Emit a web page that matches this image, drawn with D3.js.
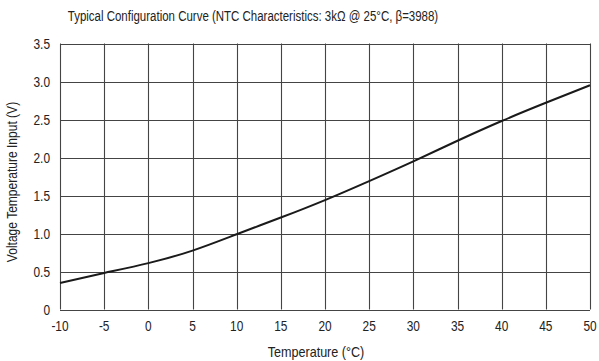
<!DOCTYPE html>
<html>
<head>
<meta charset="utf-8">
<script src="https://cdn.jsdelivr.net/npm/d3@7"></script>
<style>
  body { margin: 0; background: #fff; }
  svg text { font-family: "Liberation Sans", Arial, sans-serif; fill: #222; }
</style>
</head>
<body>
<div id="chart"></div>
<script>
// temperature (°C) vs voltage (V)
const temps = [-10, -5, 0, 5, 10, 15, 20, 25, 30, 35, 40, 45, 50];
const volts = [0.35, 0.48, 0.61, 0.775, 0.99, 1.21, 1.44, 1.69, 1.95, 2.22, 2.48, 2.72, 2.95];
const xTicks = [-10, -5, 0, 5, 10, 15, 20, 25, 30, 35, 40, 45, 50];
const yTicks = [0, 0.5, 1.0, 1.5, 2.0, 2.5, 3.0, 3.5];
const yTickLabels = ['0', '0.5', '1.0', '1.5', '2.0', '2.5', '3.0', '3.5'];

const width = 599;
const height = 361;
const margin = {top: 43.5, right: 9, bottom: 51.5, left: 60};
const squeeze = 0.82; // fake a condensed face

const svg = d3.select('#chart').append('svg')
  .attr('width', width)
  .attr('height', height);

const x = d3.scaleLinear().domain([-10, 50]).range([margin.left, width - margin.right]);
const y = d3.scaleLinear().domain([0, 3.5]).range([height - margin.bottom, margin.top]);

// grid
const grid = svg.append('g').attr('stroke', '#444').attr('stroke-width', 1.1);
grid.selectAll('line.v')
  .data(xTicks)
  .join('line')
  .attr('class', 'v')
  .attr('x1', d => Math.round(x(d)) + 0.5)
  .attr('x2', d => Math.round(x(d)) + 0.5)
  .attr('y1', y(3.5))
  .attr('y2', y(0));
grid.selectAll('line.h')
  .data(yTicks)
  .join('line')
  .attr('class', 'h')
  .attr('x1', x(-10))
  .attr('x2', x(50))
  .attr('y1', d => Math.round(y(d)) + 0.5)
  .attr('y2', d => Math.round(y(d)) + 0.5);

// tick labels
svg.append('g').selectAll('text')
  .data(yTicks)
  .join('text')
  .attr('transform', d => `translate(${margin.left - 10},${y(d) + 5}) scale(${squeeze},1)`)
  .attr('text-anchor', 'end')
  .attr('font-size', 14.5)
  .text((d, i) => yTickLabels[i]);

svg.append('g').selectAll('text')
  .data(xTicks)
  .join('text')
  .attr('transform', d => `translate(${x(d)},${y(0) + 21}) scale(${squeeze},1)`)
  .attr('text-anchor', 'middle')
  .attr('font-size', 14.5)
  .text(d => d < 0 ? '-' + Math.abs(d) : d);

// curve
const line = d3.line()
  .x((d, i) => x(temps[i]))
  .y(d => y(d))
  .curve(d3.curveNatural);
svg.append('path')
  .datum(volts)
  .attr('fill', 'none')
  .attr('stroke', '#1a1a1a')
  .attr('stroke-width', 2)
  .attr('d', line);

// titles
svg.append('text')
  .attr('transform', `translate(253,21) scale(${squeeze},1)`)
  .attr('text-anchor', 'middle')
  .attr('font-size', 14)
  .text('Typical Configuration Curve (NTC Characteristics: 3k\u03A9 @ 25\u00B0C, \u03B2=3988)');

svg.append('text')
  .attr('transform', 'translate(316,357) scale(0.9,1)')
  .attr('text-anchor', 'middle')
  .attr('font-size', 14)
  .text('Temperature (\u00B0C)');

svg.append('text')
  .attr('transform', 'translate(17,182) rotate(-90) scale(0.86,1)')
  .attr('text-anchor', 'middle')
  .attr('font-size', 14)
  .text('Voltage Temperature Input (V)');
</script>
</body>
</html>
